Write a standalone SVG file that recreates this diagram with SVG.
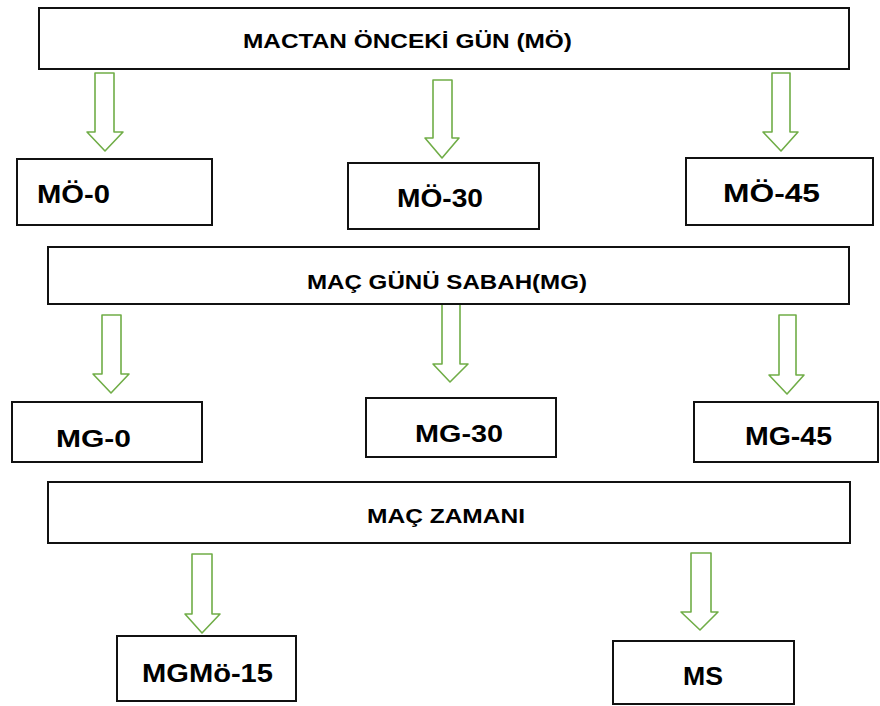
<svg xmlns="http://www.w3.org/2000/svg" width="880" height="706" viewBox="0 0 880 706">
<style>
.box{fill:#fff;stroke:#111;stroke-width:2}
.t{font-family:"Liberation Sans",Arial,sans-serif;font-weight:bold;fill:#000}
.arr{fill:#fff;stroke:#70AD47;stroke-width:1.6;stroke-linejoin:round}
</style>
<rect width="880" height="706" fill="#fff"/>
<g id="connectors">
<polygon class="arr" points="95,73 114,73 114,132 123,132 105,151 87,132 95,132"/>
<polygon class="arr" points="433,80 452,80 452,138 459,138 442,158 425,138 433,138"/>
<polygon class="arr" points="772,73 790,73 790,132 798,132 781,151 763,132 772,132"/>
<polygon class="arr" points="102,315 121,315 121,374 129,374 111,393 93,374 102,374"/>
<polygon class="arr" points="442,304 460,304 460,364 468,364 450,382 433,364 442,364"/>
<polygon class="arr" points="779,315 796,315 796,375 804,375 787,394 769,375 779,375"/>
<polygon class="arr" points="192,554 212,554 212,614 220,614 202,633 185,614 192,614"/>
<polygon class="arr" points="691,553 711,553 711,612 718,612 700,630 681,612 691,612"/>
</g>
<g id="mo">
<rect class="box" x="39" y="8" width="810" height="61"/>
<text class="t" x="243" y="48" font-size="21" textLength="329" lengthAdjust="spacingAndGlyphs">MACTAN ÖNCEKİ GÜN (MÖ)</text>
</g>
<g id="mo0">
<rect class="box" x="17" y="159" width="195" height="66"/>
<text class="t" x="37" y="203" font-size="25" textLength="73" lengthAdjust="spacingAndGlyphs">MÖ-0</text>
</g>
<g id="mo30">
<rect class="box" x="348" y="163" width="191" height="66"/>
<text class="t" x="397" y="207" font-size="26" textLength="86" lengthAdjust="spacingAndGlyphs">MÖ-30</text>
</g>
<g id="mo45">
<rect class="box" x="686" y="158" width="187" height="67"/>
<text class="t" x="723" y="202" font-size="25" textLength="97" lengthAdjust="spacingAndGlyphs">MÖ-45</text>
</g>
<g id="mg">
<rect class="box" x="48" y="247" width="801" height="57"/>
<text class="t" x="307" y="289" font-size="21" textLength="280" lengthAdjust="spacingAndGlyphs">MAÇ GÜNÜ SABAH(MG)</text>
</g>
<g id="mg0">
<rect class="box" x="12" y="402" width="190" height="60"/>
<text class="t" x="56" y="447" font-size="24" textLength="75" lengthAdjust="spacingAndGlyphs">MG-0</text>
</g>
<g id="mg30">
<rect class="box" x="366" y="398" width="190" height="59"/>
<text class="t" x="415" y="442" font-size="24" textLength="88" lengthAdjust="spacingAndGlyphs">MG-30</text>
</g>
<g id="mg45">
<rect class="box" x="694" y="402" width="184" height="60"/>
<text class="t" x="745" y="445" font-size="25" textLength="87" lengthAdjust="spacingAndGlyphs">MG-45</text>
</g>
<g id="mz">
<rect class="box" x="48" y="482" width="802" height="61"/>
<text class="t" x="367" y="523" font-size="21" textLength="158" lengthAdjust="spacingAndGlyphs">MAÇ ZAMANI</text>
</g>
<g id="mgmo15">
<rect class="box" x="117" y="636" width="179" height="65"/>
<text class="t" x="142" y="682" font-size="25" textLength="131" lengthAdjust="spacingAndGlyphs">MGMö-15</text>
</g>
<g id="ms">
<rect class="box" x="613" y="641" width="181" height="63"/>
<text class="t" x="683" y="685" font-size="25" textLength="40" lengthAdjust="spacingAndGlyphs">MS</text>
</g>
</svg>
